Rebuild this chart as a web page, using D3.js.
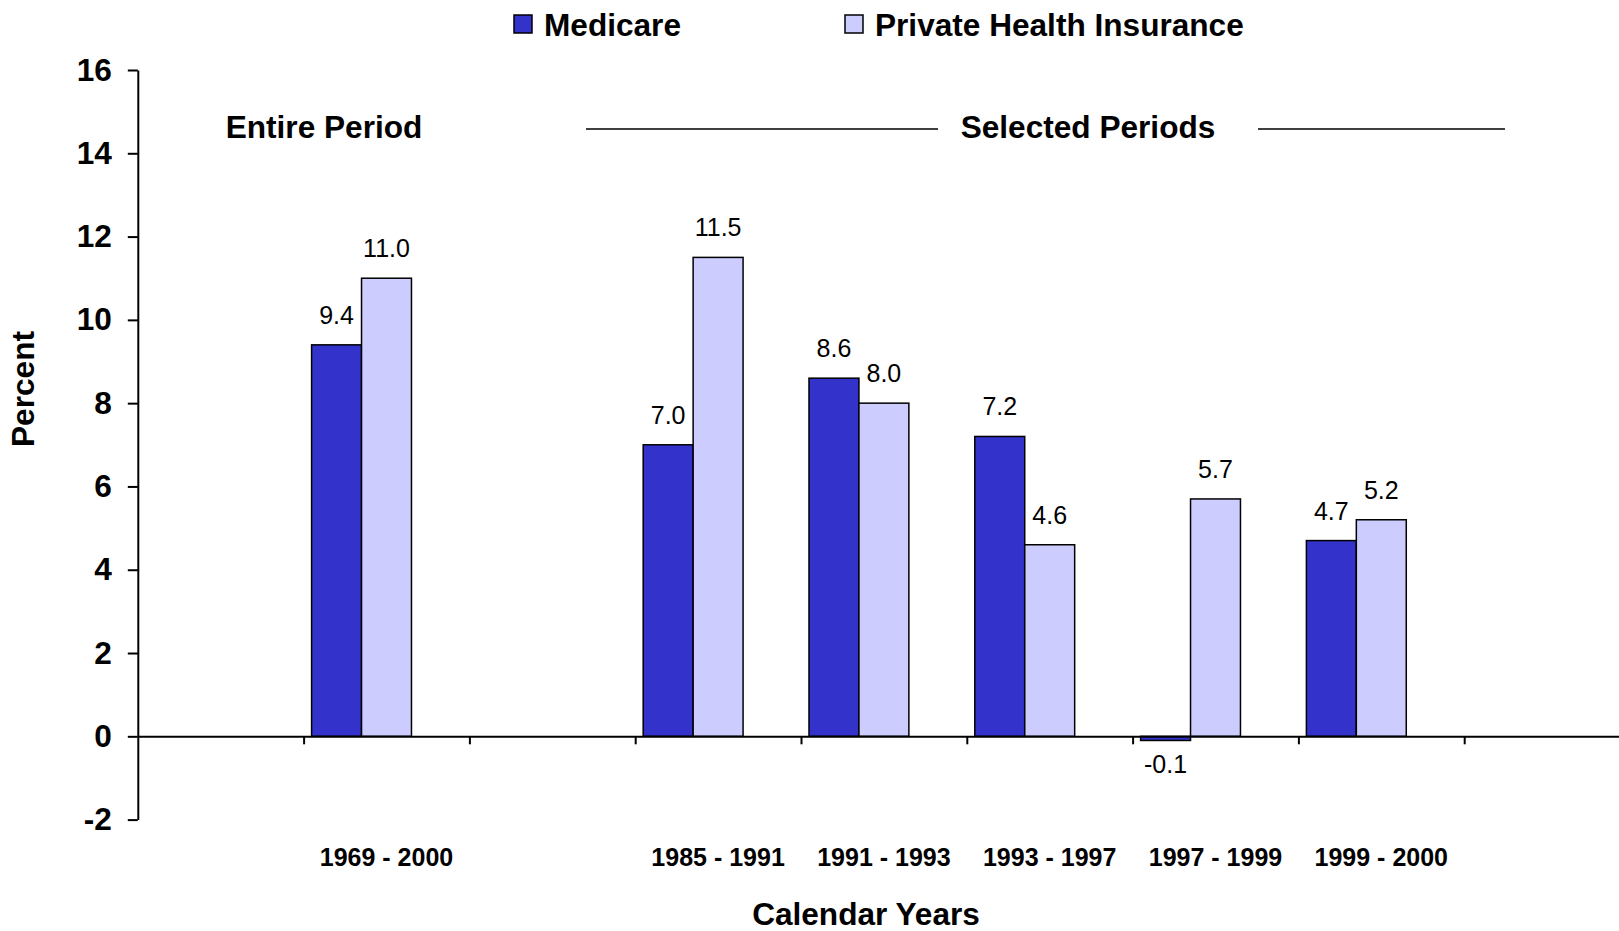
<!DOCTYPE html>
<html>
<head>
<meta charset="utf-8">
<script src="https://cdn.jsdelivr.net/npm/d3@7/dist/d3.min.js"></script>
<style>
  html, body { margin: 0; padding: 0; background: #fff; }
  svg { display: block; font-family: Arial, "Liberation Sans", sans-serif; }
</style>
</head>
<body>
<svg id="chart" width="1619" height="931"></svg>
<script>
// ---- Data ----
const categories = ["", "1969 - 2000", "", "1985 - 1991", "1991 - 1993", "1993 - 1997", "1997 - 1999", "1999 - 2000", ""];
const medicare   = [null, 9.4, null, 7.0, 8.6, 7.2, -0.1, 4.7, null];
const privateIns = [null, 11.0, null, 11.5, 8.0, 4.6, 5.7, 5.2, null];
const seriesNames = ["Medicare", "Private Health Insurance"];
const seriesColors = ["#3333CC", "#CCCCFF"];
const yTicks = [-2, 0, 2, 4, 6, 8, 10, 12, 14, 16];

// ---- Layout ----
const svg = d3.select("#chart");
const x0 = 137.8, step = 165.8;
const nSlots = categories.length;
const hyphen = s => s.replace(/\u2212/g, "-");

const x = d3.scaleBand().domain(d3.range(nSlots)).range([x0, x0 + nSlots * step]).padding(0);
const xb = d3.scaleLinear().domain([0, nSlots]).range([x0, x0 + nSlots * step]);
const x1 = d3.scaleBand().domain(["Medicare", "Private", "blank"]).range([0, x.bandwidth()])
  .paddingInner(0).paddingOuter(0.16);
const y = d3.scaleLinear().domain([-2, 16]).range([819.6, 70]);

// Y axis
const yAxis = svg.append("g").attr("transform", `translate(${x0},0)`)
  .call(d3.axisLeft(y).tickValues(yTicks).tickSize(10).tickPadding(16).tickSizeOuter(0)
    .tickFormat(d => hyphen(d3.format("d")(d))));
yAxis.select(".domain").attr("stroke", "#000").attr("stroke-width", 2);
yAxis.selectAll(".tick line").attr("stroke", "#000").attr("stroke-width", 2);
yAxis.selectAll(".tick text").attr("font-size", 31.6).attr("font-weight", "bold")
  .attr("font-family", "Arial, 'Liberation Sans', sans-serif").attr("fill", "#000");

// Bars
const seriesData = [medicare, privateIns];
const seriesKeys = ["Medicare", "Private"];
seriesData.forEach((vals, si) => {
  const pts = vals.map((v, i) => ({ v, i })).filter(d => d.v !== null);
  svg.append("g").selectAll("rect").data(pts).join("rect")
    .attr("x", d => x(d.i) + x1(seriesKeys[si]))
    .attr("width", x1.bandwidth())
    .attr("y", d => y(Math.max(0, d.v)))
    .attr("height", d => Math.abs(y(d.v) - y(0)))
    .attr("fill", seriesColors[si])
    .attr("stroke", "#000").attr("stroke-width", 1.5);
  svg.append("g").selectAll("text").data(pts).join("text")
    .attr("x", d => x(d.i) + x1(seriesKeys[si]) + x1.bandwidth() / 2)
    .attr("y", d => d.v >= 0 ? y(d.v) - 21 : y(d.v) + 33)
    .attr("text-anchor", "middle")
    .attr("font-size", 25)
    .attr("fill", "#000")
    .text(d => hyphen(d3.format(".1f")(d.v)));
});

// X axis (at zero)
const xAxis = svg.append("g").attr("transform", `translate(0,${y(0)})`)
  .call(d3.axisBottom(xb).tickValues(d3.range(1, nSlots)).tickSize(8).tickSizeOuter(0).tickFormat(""));
xAxis.select(".domain").attr("stroke", "#000").attr("stroke-width", 2);
xAxis.selectAll(".tick line").attr("stroke", "#000").attr("stroke-width", 2);

// Category labels
svg.append("g").selectAll("text").data(categories.map((c, i) => ({ c, i })).filter(d => d.c !== "")).join("text")
  .attr("x", d => x(d.i) + x.bandwidth() / 2)
  .attr("y", 866)
  .attr("text-anchor", "middle")
  .attr("font-size", 25).attr("font-weight", "bold")
  .text(d => d.c);

// Axis titles
svg.append("text").attr("x", 866).attr("y", 925).attr("text-anchor", "middle")
  .attr("font-size", 31.6).attr("font-weight", "bold").text("Calendar Years");
svg.append("text").attr("transform", "translate(34,389) rotate(-90)").attr("text-anchor", "middle")
  .attr("font-size", 31.6).attr("font-weight", "bold").text("Percent");

// Period annotations
svg.append("text").attr("x", 324).attr("y", 138).attr("text-anchor", "middle")
  .attr("font-size", 31.6).attr("font-weight", "bold").text("Entire Period");
svg.append("text").attr("x", 1088).attr("y", 138).attr("text-anchor", "middle")
  .attr("font-size", 31.6).attr("font-weight", "bold").text("Selected Periods");
svg.append("line").attr("x1", 586).attr("x2", 938).attr("y1", 129).attr("y2", 129)
  .attr("stroke", "#000").attr("stroke-width", 1.5);
svg.append("line").attr("x1", 1258).attr("x2", 1505).attr("y1", 129).attr("y2", 129)
  .attr("stroke", "#000").attr("stroke-width", 1.5);

// Legend
const legendX = [514, 845];
const legend = svg.append("g");
seriesNames.forEach((name, i) => {
  legend.append("rect").attr("x", legendX[i]).attr("y", 15).attr("width", 18).attr("height", 18)
    .attr("fill", seriesColors[i]).attr("stroke", "#000").attr("stroke-width", 1.5);
  legend.append("text").attr("x", legendX[i] + 30).attr("y", 36)
    .attr("font-size", 31.6).attr("font-weight", "bold").text(name);
});
</script>
</body>
</html>
